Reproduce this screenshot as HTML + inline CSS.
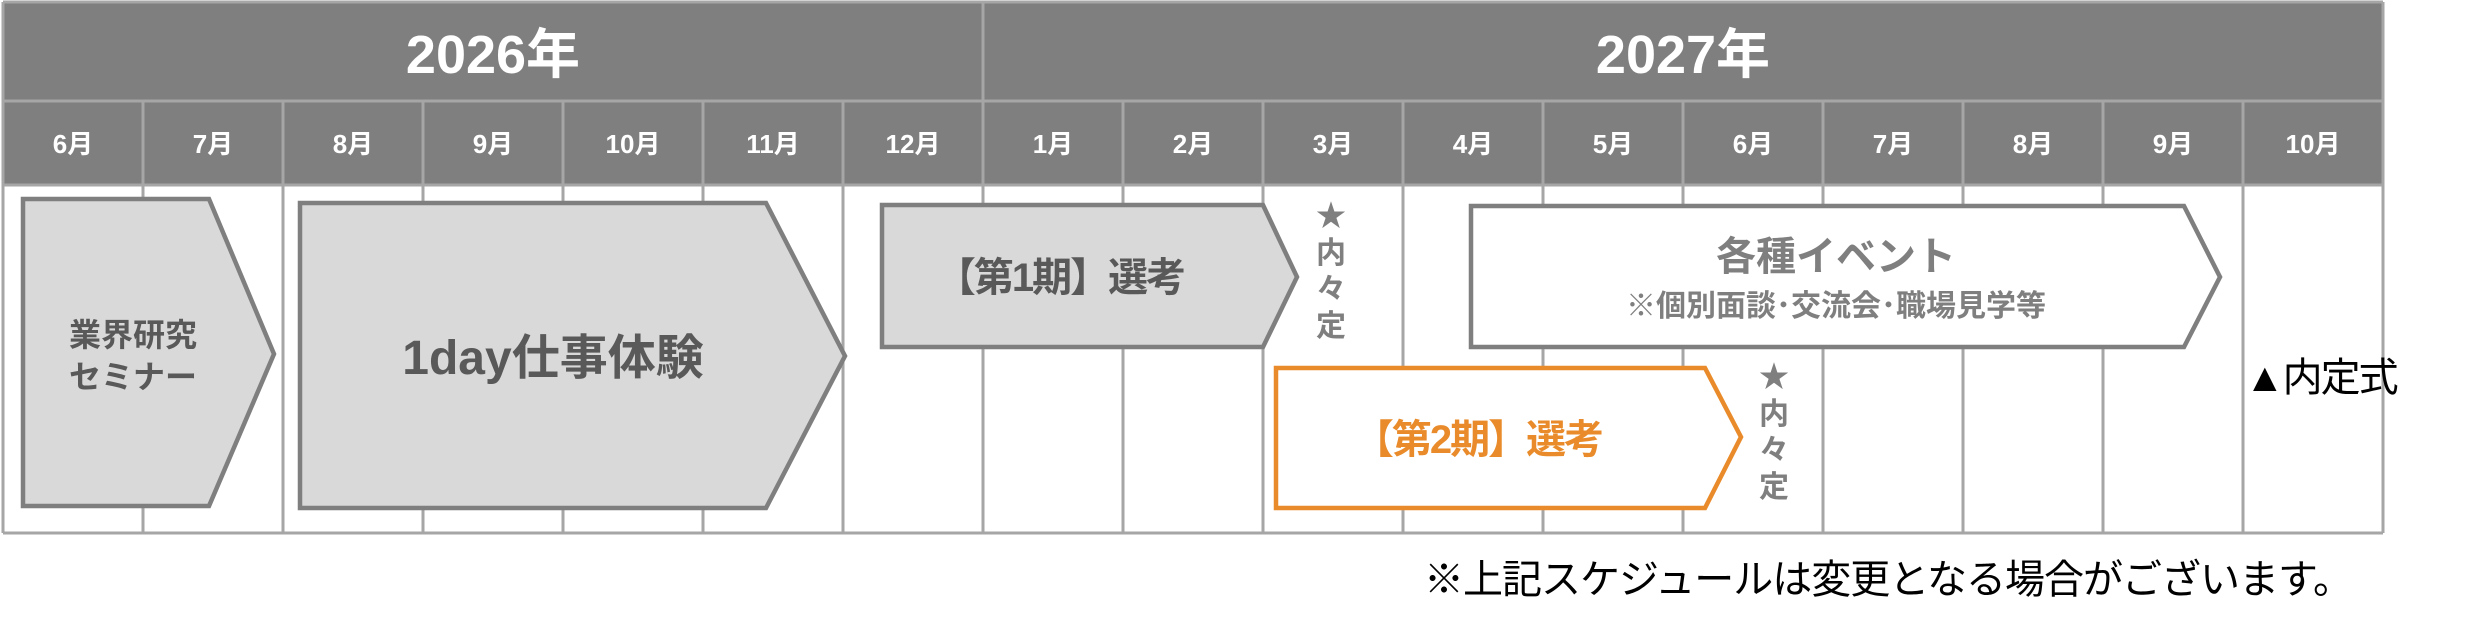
<!DOCTYPE html>
<html><head><meta charset="utf-8"><style>
html,body{margin:0;padding:0;background:#fff;}
svg{display:block;}
text{font-family:"Liberation Sans","Noto Sans CJK JP",sans-serif;}
</style></head><body>
<svg width="2483" height="634" viewBox="0 0 2483 634" xmlns="http://www.w3.org/2000/svg">
<rect x="0" y="0" width="2483" height="634" fill="#fff"/>
<rect x="3" y="3" width="2380" height="97" fill="#7f7f7f"/>
<rect x="3" y="102" width="2380" height="83" fill="#7f7f7f"/>
<g stroke="#a6a6a6" stroke-width="3">
<line x1="3" y1="2" x2="2383" y2="2"/>
<line x1="3" y1="101" x2="2383" y2="101"/>
<line x1="3" y1="185" x2="2383" y2="185"/>
<line x1="3" y1="533" x2="2383" y2="533"/>
<line x1="3" y1="2" x2="3" y2="533"/>
<line x1="2383" y1="2" x2="2383" y2="533"/>
<line x1="983" y1="2" x2="983" y2="533"/>
<line x1="143" y1="101" x2="143" y2="533"/>
<line x1="283" y1="101" x2="283" y2="533"/>
<line x1="423" y1="101" x2="423" y2="533"/>
<line x1="563" y1="101" x2="563" y2="533"/>
<line x1="703" y1="101" x2="703" y2="533"/>
<line x1="843" y1="101" x2="843" y2="533"/>
<line x1="1123" y1="101" x2="1123" y2="533"/>
<line x1="1263" y1="101" x2="1263" y2="533"/>
<line x1="1403" y1="101" x2="1403" y2="533"/>
<line x1="1543" y1="101" x2="1543" y2="533"/>
<line x1="1683" y1="101" x2="1683" y2="533"/>
<line x1="1823" y1="101" x2="1823" y2="533"/>
<line x1="1963" y1="101" x2="1963" y2="533"/>
<line x1="2103" y1="101" x2="2103" y2="533"/>
<line x1="2243" y1="101" x2="2243" y2="533"/>
</g>
<g fill="#fff" font-weight="bold" text-anchor="middle">
<text x="493" y="73" font-size="54">2026年</text>
<text x="1683" y="73" font-size="54">2027年</text>
<g font-size="26">
<text x="73" y="153">6月</text><text x="213" y="153">7月</text><text x="353" y="153">8月</text>
<text x="493" y="153">9月</text><text x="633" y="153">10月</text><text x="773" y="153">11月</text>
<text x="913" y="153">12月</text><text x="1053" y="153">1月</text><text x="1193" y="153">2月</text>
<text x="1333" y="153">3月</text><text x="1473" y="153">4月</text><text x="1613" y="153">5月</text>
<text x="1753" y="153">6月</text><text x="1893" y="153">7月</text><text x="2033" y="153">8月</text>
<text x="2173" y="153">9月</text><text x="2313" y="153">10月</text>
</g></g>
<g stroke-width="4.5" stroke-linejoin="miter">
<polygon points="23,199 209,199 274,354 209,506 23,506" fill="#d9d9d9" stroke="#7f7f7f"/>
<polygon points="300,203 766,203 845,356 766,508 300,508" fill="#d9d9d9" stroke="#7f7f7f"/>
<polygon points="882,205 1263,205 1297,277 1263,347 882,347" fill="#d9d9d9" stroke="#7f7f7f"/>
<polygon points="1471,206 2184,206 2220,277 2184,347 1471,347" fill="#fff" stroke="#7f7f7f"/>
<polygon points="1276,368 1705,368 1741,437 1705,508 1276,508" fill="#fff" stroke="#e98b2a"/>
</g>
<g font-weight="bold" text-anchor="middle" fill="#595959">
<text x="133" y="346" font-size="32">業界研究</text>
<text x="133" y="388" font-size="32">セミナー</text>
<text x="553" y="374" font-size="48">1day仕事体験</text>
<text x="1060" y="291" font-size="40" letter-spacing="-2">【第1期】選考</text>
</g>
<g font-weight="bold" text-anchor="middle" fill="#7f7f7f">
<text x="1836" y="270" font-size="40">各種イベント</text>
<text x="1836" y="316" font-size="30">※個別面談･交流会･職場見学等</text>
<g font-size="30">
<text x="1331" y="226">★</text><text x="1331" y="263">内</text><text x="1331" y="299">々</text><text x="1331" y="336">定</text>
<text x="1774" y="387">★</text><text x="1774" y="424">内</text><text x="1774" y="460">々</text><text x="1774" y="497">定</text>
</g></g>
<text x="1478" y="453" font-size="40" font-weight="bold" text-anchor="middle" fill="#e98b2a" letter-spacing="-2">【第2期】選考</text>
<text x="2245" y="391" font-size="40" fill="#000" letter-spacing="-2">▲内定式</text>
<text x="1424" y="593" font-size="40" fill="#000" letter-spacing="-1">※上記スケジュールは変更となる場合がございます。</text>
</svg>
</body></html>
